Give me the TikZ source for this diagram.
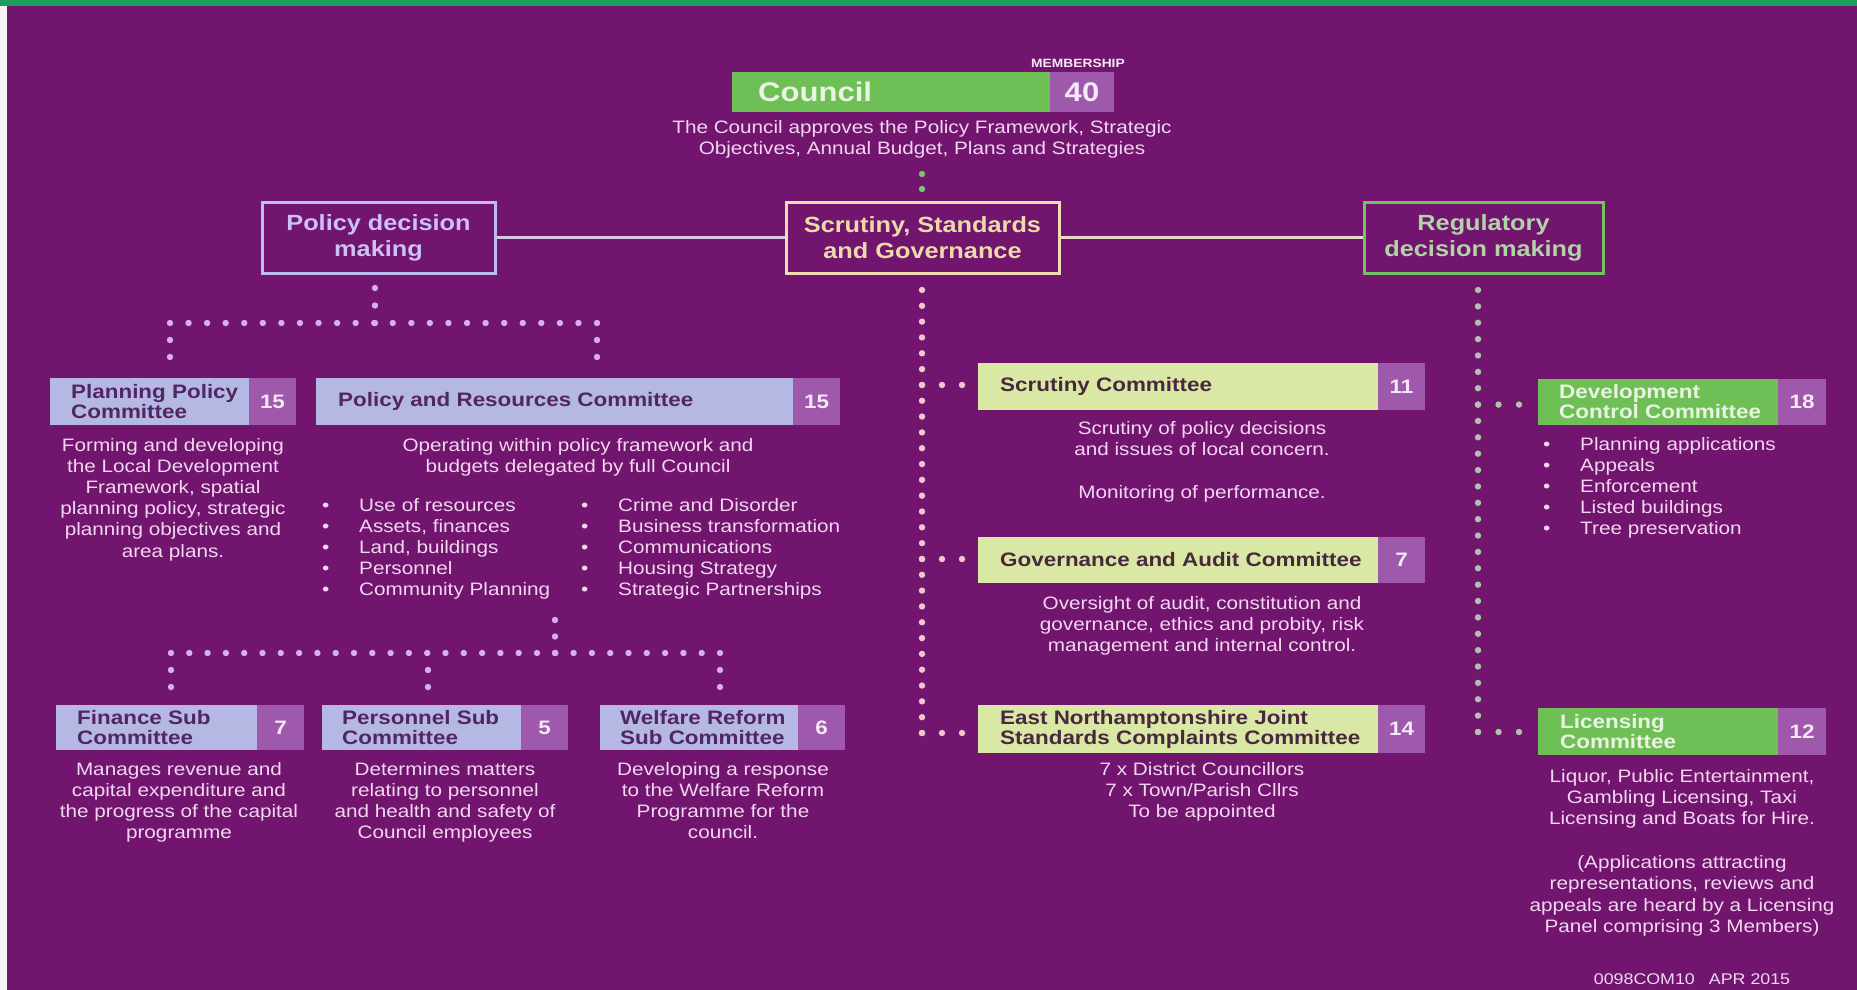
\documentclass[tikz,border=0pt]{standalone}
\usepackage{fontspec}
\setmainfont{Liberation Sans}[FakeStretch=1.15]
\usetikzlibrary{calc}
\definecolor{bgpurple}{RGB}{113,21,111}
\definecolor{topgreen}{RGB}{28,158,92}
\definecolor{numpurple}{RGB}{158,88,172}
\definecolor{numtext}{RGB}{246,232,246}
\definecolor{lav}{RGB}{182,184,228}
\definecolor{lavtext}{RGB}{82,38,100}
\definecolor{cgreen}{RGB}{110,192,86}
\definecolor{gtext}{RGB}{234,244,226}
\definecolor{ylgreen}{RGB}{218,232,166}
\definecolor{yltext}{RGB}{72,40,62}
\definecolor{desctext}{RGB}{243,214,240}
\definecolor{polline}{RGB}{188,188,238}
\definecolor{poltext}{RGB}{204,192,244}
\definecolor{ssgline}{RGB}{240,222,178}
\definecolor{ssgtext}{RGB}{236,218,170}
\definecolor{regline}{RGB}{112,196,96}
\definecolor{regtext}{RGB}{178,210,168}
\definecolor{pdot}{RGB}{214,174,244}
\definecolor{sdot}{RGB}{242,200,206}
\definecolor{rdot}{RGB}{178,192,172}
\definecolor{cdot}{RGB}{124,196,110}
\definecolor{linkA}{RGB}{212,200,228}
\definecolor{linkB}{RGB}{228,214,200}
\newcommand\dotsline[4]{\foreach \k in {0,...,#4}{\fill[#1] ($(#2)!{\k/#4}!(#3)$) circle[radius=3.2pt];}}
\newcommand\cl[1]{\begin{tabular}{@{}c@{}}#1\end{tabular}}
\newcommand\bl[1]{\begin{tabular}{@{}p{37pt}@{}l@{}}#1\end{tabular}}
\begin{document}
\begin{tikzpicture}[x=1pt,y=-1pt,
  namebox/.style={anchor=north west, inner sep=0pt, outer sep=0pt, minimum height=#1},
  numbox/.style={anchor=north west, inner sep=0pt, outer sep=0pt, fill=numpurple, text=numtext, font=\fontsize{19.5}{20}\selectfont\bfseries, minimum width=47, minimum height=#1},
  ttl/.style={anchor=west, inner sep=0pt, align=left, font=\fontsize{19.5}{20}\selectfont\bfseries},
  desc/.style={anchor=north, inner sep=0pt, text=desctext, font=\fontsize{18}{21.2}\selectfont},
  blist/.style={anchor=north west, inner sep=0pt, text=desctext, font=\fontsize{18}{21.2}\selectfont},
  hdr/.style={draw, line width=3pt, inner sep=0pt, align=center, font=\fontsize{22}{26}\selectfont\bfseries},
  link/.style={line width=3pt}
]
\useasboundingbox (0,0) rectangle (1857,990);
\fill[bgpurple] (0,0) rectangle (1857,990);
\fill[topgreen] (0,0) rectangle (1857,6);
\fill[white!92!gray] (0,6) rectangle (7,990);

% Council
\node[namebox=40, fill=cgreen, minimum width=318] (council) at (732,72) {};
\node[anchor=west, inner sep=0pt, text=gtext, font=\fontsize{27}{27}\selectfont\bfseries] (council-t) at ([xshift=26pt]council.west) {Council};
\node[numbox=40, font=\fontsize{27}{27}\selectfont\bfseries, minimum width=64] (council-n) at (council.north east) {40};
\node[anchor=south, inner sep=0pt, text=numtext, font=\fontsize{12}{12}\selectfont\bfseries] (member) at ([xshift=-4pt,yshift=4pt]council-n.north) {MEMBERSHIP};
\node[desc] (council-d) at (922,118) {\cl{The Council approves the Policy Framework, Strategic\\Objectives, Annual Budget, Plans and Strategies}};

% Header boxes
\node[hdr, draw=polline, text=poltext, minimum width=233, minimum height=71] (pol) at (378.5,237.5) {Policy decision\\making};
\node[hdr, draw=ssgline, text=ssgtext, minimum width=273, minimum height=71] (ssg) at (922.5,237.5) {Scrutiny, Standards\\and Governance};
\node[hdr, draw=regline, text=regtext, minimum width=239, minimum height=71] (reg) at (1483.5,237.5) {Regulatory\\decision making};
\draw[link, linkA] (pol.east) -- (ssg.west);
\draw[link, linkB] (ssg.east) -- (reg.west);

% Council dots
\coordinate (cd1) at (922,174); \coordinate (cd2) at (922,189);
\dotsline{cdot}{cd1}{cd2}{1}

% Policy tree
\coordinate (p0) at (375,288); \coordinate (pj) at (375,323);
\coordinate (pl) at (170,323); \coordinate (pr) at (597,323);
\coordinate (pl1) at (170,340); \coordinate (pl2) at (170,357);
\coordinate (pr1) at (597,340); \coordinate (pr2) at (597,357);
\dotsline{pdot}{p0}{pj}{2}
\dotsline{pdot}{pl}{pr}{23}
\dotsline{pdot}{pl1}{pl2}{1}
\dotsline{pdot}{pr1}{pr2}{1}

% Planning Policy
\node[namebox=47, fill=lav, minimum width=199] (ppc) at (50,378) {};
\node[ttl, text=lavtext] (ppc-t) at ([xshift=21pt]ppc.west) {Planning Policy\\Committee};
\node[numbox=47] (ppc-n) at (ppc.north east) {15};
\node[desc] (ppc-d) at (173,436) {\cl{Forming and developing\\the Local Development\\Framework, spatial\\planning policy, strategic\\planning objectives and\\area plans.}};

% Policy and Resources
\node[namebox=47, fill=lav, minimum width=477] (pr) at (316,378) {};
\node[ttl, text=lavtext] (pr-t) at ([xshift=22pt]pr.west) {Policy and Resources Committee};
\node[numbox=47] (pr-n) at (pr.north east) {15};
\node[desc] (pr-d) at (578,436) {\cl{Operating within policy framework and\\budgets delegated by full Council}};
\node[blist] (pr-b1) at (322,496) {\bl{•&Use of resources\\•&Assets, finances\\•&Land, buildings\\•&Personnel\\•&Community Planning}};
\node[blist] (pr-b2) at (581,496) {\bl{•&Crime and Disorder\\•&Business transformation\\•&Communications\\•&Housing Strategy\\•&Strategic Partnerships}};

% P&R tree
\coordinate (q0) at (555,620); \coordinate (qj) at (555,653);
\coordinate (ql) at (171,653); \coordinate (qr) at (720,653);
\coordinate (ql1) at (171,670); \coordinate (ql2) at (171,687);
\coordinate (qm1) at (428,670); \coordinate (qm2) at (428,687);
\coordinate (qr1) at (720,670); \coordinate (qr2) at (720,687);
\dotsline{pdot}{q0}{qj}{2}
\dotsline{pdot}{ql}{qr}{30}
\dotsline{pdot}{ql1}{ql2}{1}
\dotsline{pdot}{qm1}{qm2}{1}
\dotsline{pdot}{qr1}{qr2}{1}

% Sub committees
\node[namebox=45, fill=lav, minimum width=201] (fin) at (56,705) {};
\node[ttl, text=lavtext] (fin-t) at ([xshift=21pt]fin.west) {Finance Sub\\Committee};
\node[numbox=45] (fin-n) at (fin.north east) {7};
\node[desc] (fin-d) at (179,760) {\cl{Manages revenue and\\capital expenditure and\\the progress of the capital\\programme}};

\node[namebox=45, fill=lav, minimum width=199] (per) at (322,705) {};
\node[ttl, text=lavtext] (per-t) at ([xshift=20pt]per.west) {Personnel Sub\\Committee};
\node[numbox=45] (per-n) at (per.north east) {5};
\node[desc] (per-d) at (445,760) {\cl{Determines matters\\relating to personnel\\and health and safety of\\Council employees}};

\node[namebox=45, fill=lav, minimum width=198] (wel) at (600,705) {};
\node[ttl, text=lavtext] (wel-t) at ([xshift=20pt]wel.west) {Welfare Reform\\Sub Committee};
\node[numbox=45] (wel-n) at (wel.north east) {6};
\node[desc] (wel-d) at (723,760) {\cl{Developing a response\\to the Welfare Reform\\Programme for the\\council.}};

% SSG column
\coordinate (s0) at (922,290); \coordinate (s1) at (922,733);
\dotsline{sdot}{s0}{s1}{28}
\coordinate (sa1) at (922,385); \coordinate (sa2) at (962,385);
\coordinate (sb1) at (922,559); \coordinate (sb2) at (962,559);
\coordinate (sc1) at (922,733); \coordinate (sc2) at (962,733);
\dotsline{sdot}{sa1}{sa2}{2}
\dotsline{sdot}{sb1}{sb2}{2}
\dotsline{sdot}{sc1}{sc2}{2}

\node[namebox=47, fill=ylgreen, minimum width=400] (scr) at (978,363) {};
\node[ttl, text=yltext] (scr-t) at ([xshift=22pt]scr.west) {Scrutiny Committee};
\node[numbox=47] (scr-n) at (scr.north east) {11};
\node[desc] (scr-d) at (1202,419) {\cl{Scrutiny of policy decisions\\and issues of local concern.\\[22pt]Monitoring of performance.}};

\node[namebox=46, fill=ylgreen, minimum width=400] (gov) at (978,537) {};
\node[ttl, text=yltext] (gov-t) at ([xshift=22pt]gov.west) {Governance and Audit Committee};
\node[numbox=46] (gov-n) at (gov.north east) {7};
\node[desc] (gov-d) at (1202,594) {\cl{Oversight of audit, constitution and\\governance, ethics and probity, risk\\management and internal control.}};

\node[namebox=48, fill=ylgreen, minimum width=400] (enj) at (978,705) {};
\node[ttl, text=yltext] (enj-t) at ([xshift=22pt]enj.west) {East Northamptonshire Joint\\Standards Complaints Committee};
\node[numbox=48] (enj-n) at (enj.north east) {14};
\node[desc] (enj-d) at (1202,760) {\cl{7 x District Councillors\\7 x Town/Parish Cllrs\\To be appointed}};

% Regulatory column
\coordinate (r0) at (1478,290); \coordinate (r1) at (1478,732);
\dotsline{rdot}{r0}{r1}{27}
\coordinate (ra1) at (1478,404.6); \coordinate (ra2) at (1519,404.6);
\coordinate (rb1) at (1478,732); \coordinate (rb2) at (1519,732);
\dotsline{rdot}{ra1}{ra2}{2}
\dotsline{rdot}{rb1}{rb2}{2}

\node[namebox=46, fill=cgreen, minimum width=240] (dev) at (1538,379) {};
\node[ttl, text=gtext] (dev-t) at ([xshift=21pt]dev.west) {Development\\Control Committee};
\node[numbox=46, minimum width=48] (dev-n) at (dev.north east) {18};
\node[blist] (dev-b) at (1543,435) {\bl{•&Planning applications\\•&Appeals\\•&Enforcement\\•&Listed buildings\\•&Tree preservation}};

\node[namebox=47, fill=cgreen, minimum width=240] (lic) at (1538,708) {};
\node[ttl, text=gtext] (lic-t) at ([xshift=22pt]lic.west) {Licensing\\Committee};
\node[numbox=47, minimum width=48] (lic-n) at (lic.north east) {12};
\node[desc] (lic-d) at (1682,767) {\cl{Liquor, Public Entertainment,\\Gambling Licensing, Taxi\\Licensing and Boats for Hire.\\[23pt](Applications attracting\\representations, reviews and\\appeals are heard by a Licensing\\Panel comprising 3 Members)}};

% Footer
\node[inner sep=0pt, text=desctext, font=\fontsize{15.5}{16}\selectfont] (foot) at (1692,979) {0098COM10\hspace{14pt}APR 2015};
\end{tikzpicture}
\end{document}
